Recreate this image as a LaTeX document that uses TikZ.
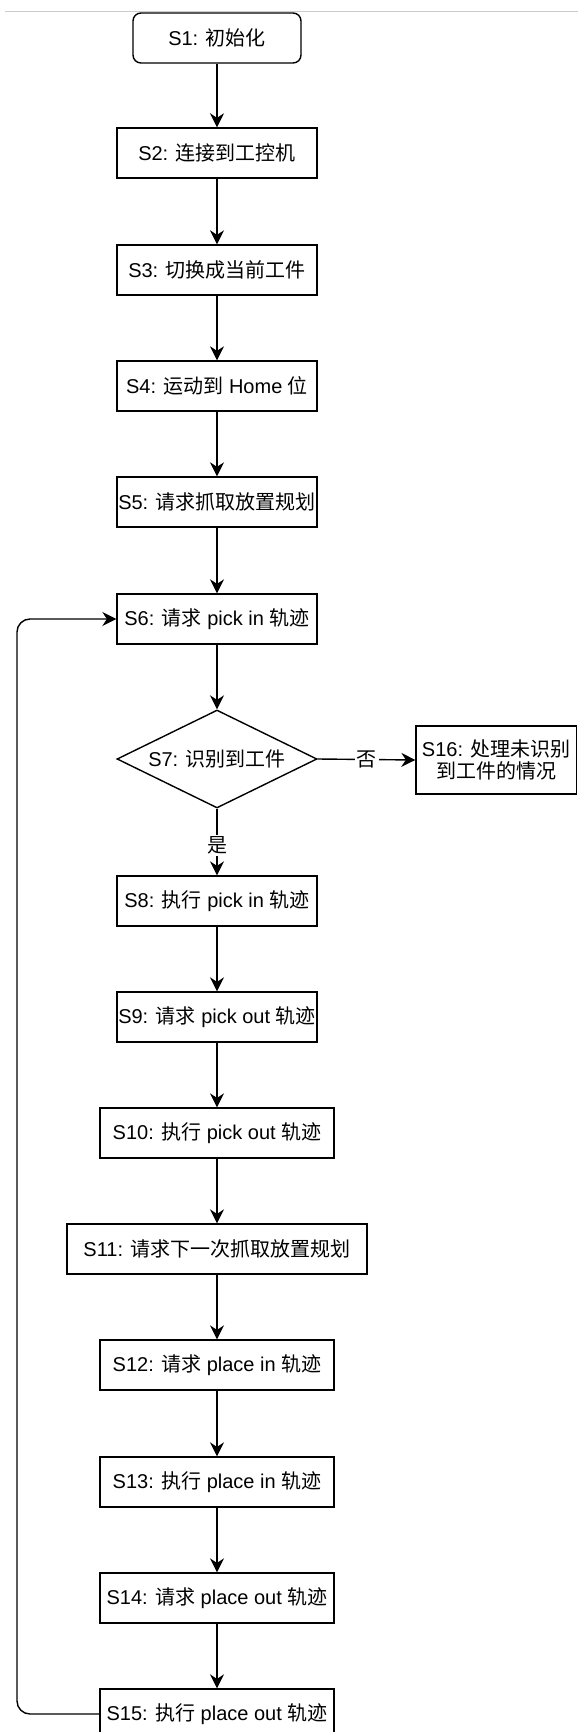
\documentclass[tikz,border=0pt]{standalone}
\usepackage{fontspec}
\setmainfont{Liberation Sans}
\newfontfamily\cjk{Noto Sans CJK SC}
\newcommand{\zh}[1]{{\cjk #1}}
\usetikzlibrary{arrows.meta,shapes.geometric}
\begin{document}
\begin{tikzpicture}[x=0.5pt,y=-0.5pt,
  every node/.style={font=\fontsize{10}{11}\selectfont, text=black},
  stepbox/.style={draw=black, line width=0.7pt, fill=white, inner sep=0pt,
    minimum width=100pt, minimum height=25pt, align=center},
  startbox/.style={stepbox, rounded corners=4pt, minimum width=84pt},
  decbox/.style={draw=black, line width=0.7pt, fill=white, diamond, shape aspect=2.2, inner sep=0pt,
    minimum width=100pt, minimum height=49pt},
  arr/.style={draw=black, line width=0.7pt, -{Stealth[length=7pt,width=7pt,inset=2.3pt]}},
  lbl/.style={fill=white, inner sep=1pt}
]
\useasboundingbox (0,0) rectangle (578,1732);
\clip (0,0) rectangle (578,1732);
\fill[white] (0,0) rectangle (578,1732);
\coordinate (tl) at (5,12);
\coordinate (tr) at (578,12);
\draw[gray!40, line width=0.5pt] (tl) -- (tr);

\node[startbox] (s1) at (217,38) {S1: \zh{初始化}};
\node[stepbox] (s2) at (217,153) {S2: \zh{连接到工控机}};
\node[stepbox] (s3) at (217,270) {S3: \zh{切换成当前工件}};
\node[stepbox] (s4) at (217,386) {S4: \zh{运动到} Home \zh{位}};
\node[stepbox] (s5) at (217,502) {S5: \zh{请求抓取放置规划}};
\node[stepbox] (s6) at (217,619) {S6: \zh{请求} pick in \zh{轨迹}};
\node[decbox] (s7) at (217,759) {S7: \zh{识别到工件}};
\node[stepbox, minimum width=80.25pt, minimum height=34pt,
  font=\fontsize{10}{10.8}\selectfont] (s16) at (496.25,760) {S16: \zh{处理未识别}\\\zh{到工件的情况}};
\node[stepbox] (s8) at (217,901) {S8: \zh{执行} pick in \zh{轨迹}};
\node[stepbox] (s9) at (217,1017) {S9: \zh{请求} pick out \zh{轨迹}};
\node[stepbox, minimum width=117pt] (s10) at (217,1133) {S10: \zh{执行} pick out \zh{轨迹}};
\node[stepbox, minimum width=150pt] (s11) at (217,1249) {S11: \zh{请求下一次抓取放置规划}};
\node[stepbox, minimum width=117pt] (s12) at (217,1365) {S12: \zh{请求} place in \zh{轨迹}};
\node[stepbox, minimum width=117pt] (s13) at (217,1482) {S13: \zh{执行} place in \zh{轨迹}};
\node[stepbox, minimum width=117pt] (s14) at (217,1598) {S14: \zh{请求} place out \zh{轨迹}};
\node[stepbox, minimum width=117pt] (s15) at (217,1714) {S15: \zh{执行} place out \zh{轨迹}};

\draw[arr] (s1) -- (s2);
\draw[arr] (s2) -- (s3);
\draw[arr] (s3) -- (s4);
\draw[arr] (s4) -- (s5);
\draw[arr] (s5) -- (s6);
\draw[arr] (s6) -- (s7);
\draw[arr] (s7.east) -- node[lbl] {\zh{否}} (s16.west);
\draw[arr] (s7.south) -- node[lbl, pos=0.55] {\zh{是}} (s8.north);
\draw[arr] (s8) -- (s9);
\draw[arr] (s9) -- (s10);
\draw[arr] (s10) -- (s11);
\draw[arr] (s11) -- (s12);
\draw[arr] (s12) -- (s13);
\draw[arr] (s13) -- (s14);
\draw[arr] (s14) -- (s15);
\coordinate (lp) at (17,1200);
\draw[arr, rounded corners=6.5pt] (s15.west) -| (lp) |- (s6.west);
\end{tikzpicture}
\end{document}
